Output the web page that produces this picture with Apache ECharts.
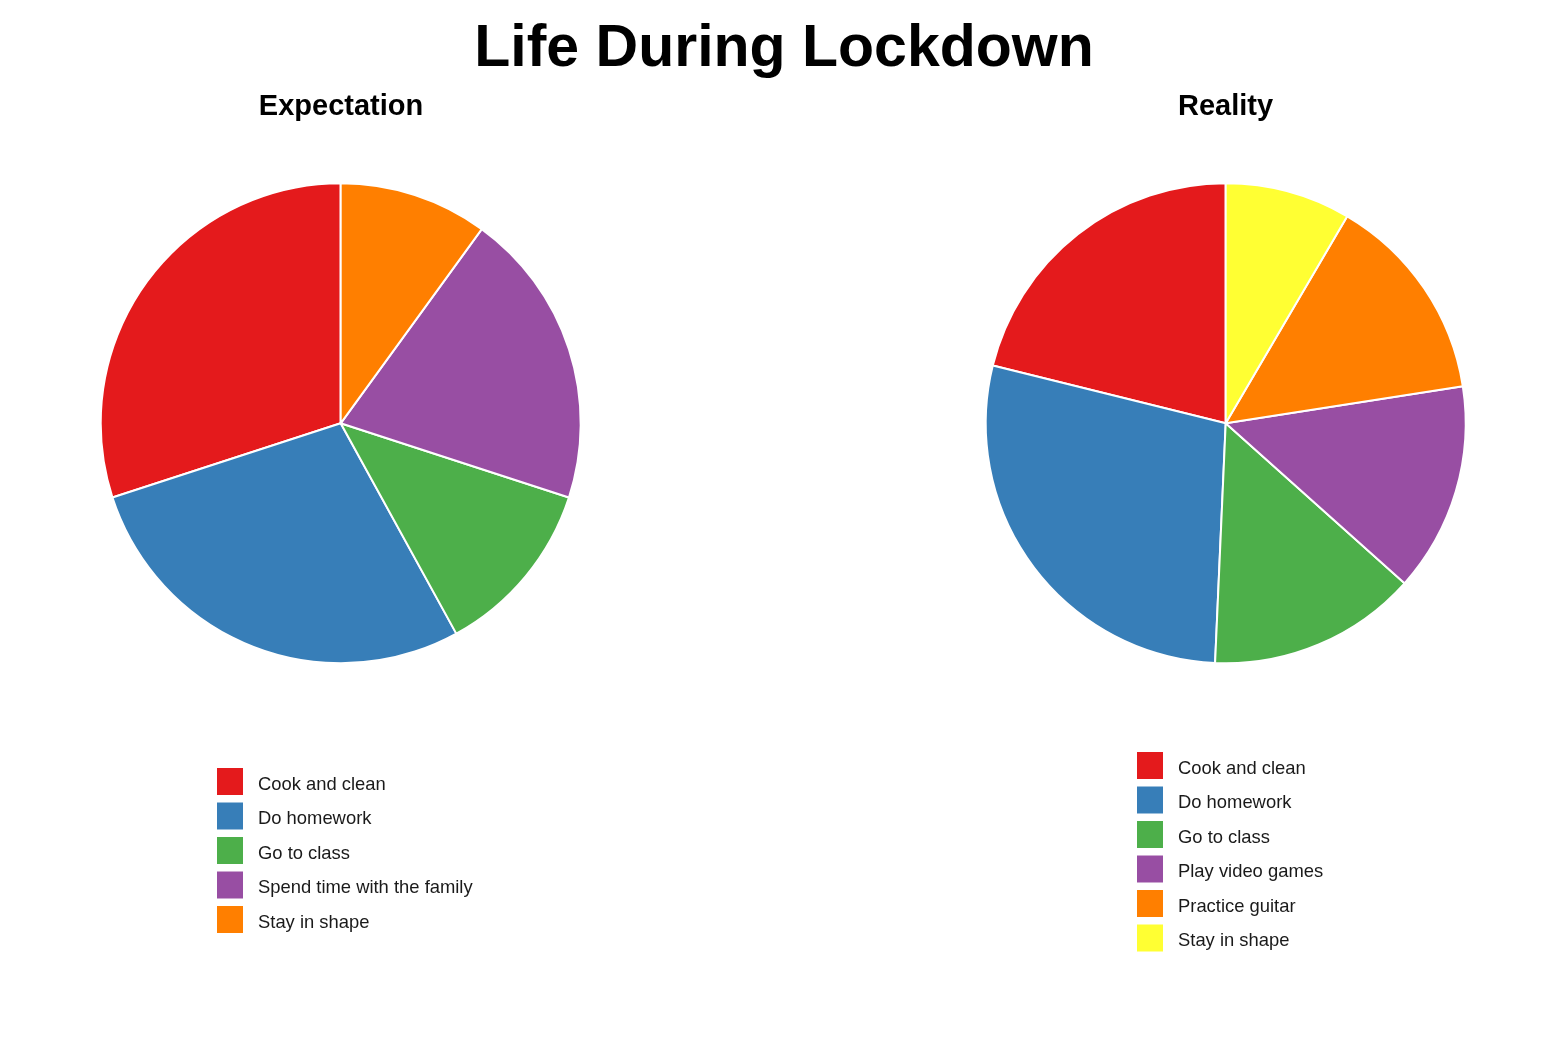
<!DOCTYPE html>
<html>
<head>
<meta charset="utf-8">
<script src="https://cdn.jsdelivr.net/npm/echarts@6/dist/echarts.min.js"></script>
<style>
html,body{margin:0;padding:0;background:#fff;}
#chart{width:1568px;height:1048px;}
</style>
</head>
<body>
<div id="chart"></div>
<script>
// Data
const expectationCategories = ['Cook and clean', 'Do homework', 'Go to class', 'Spend time with the family', 'Stay in shape'];
const expectationValues = [30, 28, 12, 20, 10];
const expectationColors = ['#E41A1C', '#377EB8', '#4DAF4A', '#984EA3', '#FF7F00'];

const realityCategories = ['Cook and clean', 'Do homework', 'Go to class', 'Play video games', 'Practice guitar', 'Stay in shape'];
const realityValues = [15, 20, 10, 10, 10, 6];
const realityColors = ['#E41A1C', '#377EB8', '#4DAF4A', '#984EA3', '#FF7F00', '#FFFF33'];

const FONT = '"Liberation Sans", Arial, sans-serif';

function pieData(cats, vals, cols) {
  return cats.map((c, i) => ({ name: c, value: vals[i], itemStyle: { color: cols[i] } }));
}
function legendData(cats, cols) {
  return cats.map((c, i) => ({ name: c, itemStyle: { color: cols[i], borderWidth: 0 } }));
}

const chart = echarts.init(document.getElementById('chart'), null, { renderer: 'canvas' });

const commonLegend = {
  orient: 'vertical',
  padding: 0,
  itemWidth: 26,
  itemHeight: 27,
  itemGap: 7.5,
  icon: 'rect',
  selectedMode: false,
  itemStyle: { borderWidth: 0 },
  formatter: '{t|{name}}',
  textStyle: {
    fontFamily: FONT, fontSize: 18.4, color: '#1a1a1a', padding: [0, 0, 0, 10],
    rich: { t: { fontFamily: FONT, fontSize: 18.4, color: '#1a1a1a', lineHeight: 16, padding: [6, 0, 0, 0] } }
  }
};

const commonPie = {
  type: 'pie',
  radius: 240,
  startAngle: 90,
  clockwise: false,
  avoidLabelOverlap: false,
  label: { show: false },
  labelLine: { show: false },
  emphasis: { disabled: true },
  animation: false,
  itemStyle: { borderColor: '#ffffff', borderWidth: 2 }
};

chart.setOption({
  backgroundColor: '#ffffff',
  animation: false,
  title: [
    { text: 'Life During Lockdown', left: 784, top: 20, textAlign: 'center', padding: 0,
      textStyle: { fontFamily: FONT, fontSize: 59, fontWeight: 'bold', color: '#000' } },
    { text: 'Expectation', left: 341, top: 92, textAlign: 'center', padding: 0,
      textStyle: { fontFamily: FONT, fontSize: 29, fontWeight: 'bold', color: '#000' } },
    { text: 'Reality', left: 1225.5, top: 92, textAlign: 'center', padding: 0,
      textStyle: { fontFamily: FONT, fontSize: 29, fontWeight: 'bold', color: '#000' } }
  ],
  legend: [
    Object.assign({}, commonLegend, { left: 217, top: 768, data: legendData(expectationCategories, expectationColors) }),
    Object.assign({}, commonLegend, { left: 1137, top: 752, data: legendData(realityCategories, realityColors) })
  ],
  series: [
    Object.assign({}, commonPie, { name: 'Expectation', center: [340.7, 423.3],
      data: pieData(expectationCategories, expectationValues, expectationColors) }),
    Object.assign({}, commonPie, { name: 'Reality', center: [1225.7, 423.3],
      data: pieData(realityCategories, realityValues, realityColors) })
  ]
});
</script>
</body>
</html>
